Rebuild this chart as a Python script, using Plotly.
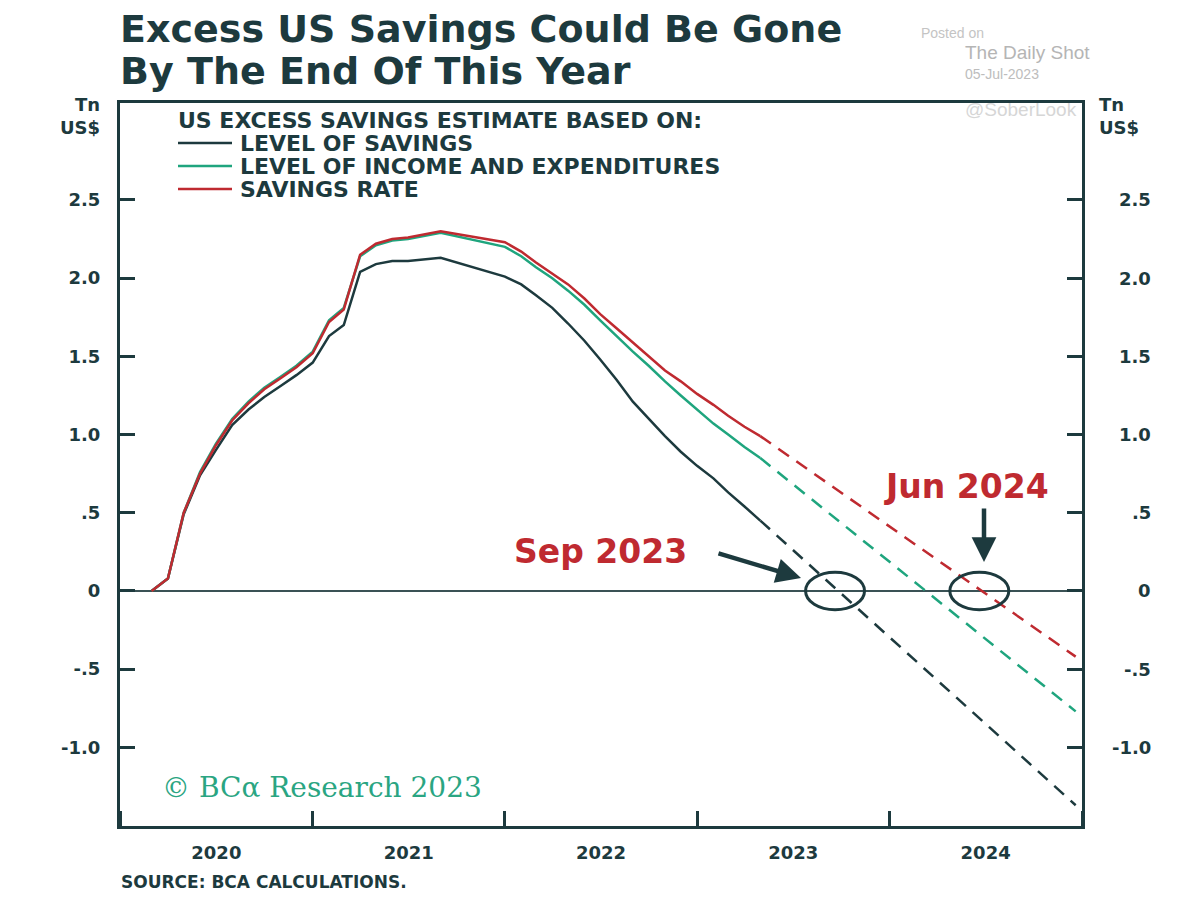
import plotly.graph_objects as go
import pandas as pd

# ---------------- data ----------------
hist_dates = [
    "2020-03-01", "2020-04-01", "2020-05-01", "2020-06-01", "2020-07-01", "2020-08-01",
    "2020-09-01", "2020-10-01", "2020-11-01", "2020-12-01",
    "2021-01-01", "2021-02-01", "2021-03-01", "2021-04-01", "2021-05-01", "2021-06-01",
    "2021-07-01", "2021-08-01", "2021-09-01",
    "2022-01-01", "2022-02-01", "2022-03-01", "2022-04-01", "2022-05-01", "2022-06-01",
    "2022-07-01", "2022-08-01", "2022-09-01", "2022-10-01", "2022-11-01", "2022-12-01",
    "2023-01-01", "2023-02-01", "2023-03-01", "2023-04-01", "2023-05-01",
]
savings_level = [
    0.00, 0.08, 0.49, 0.74, 0.90, 1.06, 1.16, 1.24, 1.31, 1.38,
    1.46, 1.63, 1.70, 2.04, 2.09, 2.11, 2.11, 2.12, 2.13,
    2.01, 1.96, 1.89, 1.81, 1.71, 1.60, 1.48, 1.35, 1.21, 1.10, 0.99, 0.89,
    0.80, 0.72, 0.63, 0.54, 0.45,
]
income_exp = [
    0.00, 0.08, 0.50, 0.76, 0.94, 1.10, 1.21, 1.30, 1.37, 1.44,
    1.53, 1.73, 1.81, 2.14, 2.21, 2.24, 2.25, 2.27, 2.29,
    2.20, 2.14, 2.07, 2.00, 1.92, 1.83, 1.73, 1.63, 1.53, 1.44, 1.34, 1.25,
    1.16, 1.07, 1.00, 0.92, 0.85,
]
savings_rate = [
    0.00, 0.08, 0.50, 0.75, 0.93, 1.09, 1.20, 1.29, 1.36, 1.43,
    1.52, 1.72, 1.80, 2.15, 2.22, 2.25, 2.26, 2.28, 2.30,
    2.23, 2.17, 2.10, 2.03, 1.96, 1.87, 1.77, 1.68, 1.59, 1.50, 1.41, 1.34,
    1.26, 1.19, 1.12, 1.05, 0.99,
]

proj_dates = ["2023-05-01", "2024-12-20"]
savings_level_proj = [0.45, -1.37]
income_exp_proj = [0.85, -0.77]
savings_rate_proj = [0.99, -0.42]

series_names = ["LEVEL OF SAVINGS", "LEVEL OF INCOME AND EXPENDITURES", "SAVINGS RATE"]
legend_heading = "US EXCESS SAVINGS ESTIMATE BASED ON:"

y_tickvals = [-1.0, -0.5, 0, 0.5, 1.0, 1.5, 2.0, 2.5]
y_ticktext = ["-1.0", "-.5", "0", ".5", "1.0", "1.5", "2.0", "2.5"]

crossing_labels = ["Sep 2023", "Jun 2024"]
crossing_dates = ["2023-09-20", "2024-06-20"]

title_lines = ["Excess US Savings Could Be Gone", "By The End Of This Year"]
source_text = "SOURCE: BCA CALCULATIONS."
brand_text = "© BCα Research 2023"

# ---------------- style ----------------
DARK = "#1d3a3e"
GREEN = "#1fa57e"
RED = "#bf2a30"
colors = [DARK, GREEN, RED]
FONT = "DejaVu Sans"

OFF = 8  # page body margin of the browser
L, R, T, B = 120 - OFF, 1082 - OFF, 103 - OFF, 826 - OFF
W, H = 1200 - OFF, 900 - OFF


def px(X):
    return (X - OFF - L) / (R - L)


def py(Y):
    return (B - (Y - OFF)) / (B - T)


fig = go.Figure()

hist = [savings_level, income_exp, savings_rate]
proj = [savings_level_proj, income_exp_proj, savings_rate_proj]
for name, vals, pvals, c in zip(series_names, hist, proj, colors):
    fig.add_trace(go.Scatter(x=hist_dates, y=vals, mode="lines", name=name,
                             line=dict(color=c, width=2.5), showlegend=False))
    fig.add_trace(go.Scatter(x=proj_dates, y=pvals, mode="lines", name=name + " (proj.)",
                             line=dict(color=c, width=2.5, dash="13px,9px"), showlegend=False))

fig.update_layout(
    width=W, height=H,
    margin=dict(l=L, r=W - R, t=T, b=H - B),
    paper_bgcolor="white", plot_bgcolor="white",
    font=dict(family=FONT, color=DARK),
    showlegend=False,
)

fig.update_xaxes(
    type="date", range=["2020-01-01", "2025-01-01"],
    tick0="2020-01-01", dtick="M12", tickformat="%Y", ticklabelmode="period",
    ticks="inside", ticklen=15, tickwidth=3, tickcolor=DARK,
    showline=True, linecolor=DARK, linewidth=3, mirror=True,
    showgrid=False, zeroline=False,
    tickfont=dict(family=FONT, size=18, color=DARK, weight="bold"),
    ticklabelstandoff=8,
)
fig.update_yaxes(
    range=[-1.503, 3.12],
    tickvals=y_tickvals, ticktext=y_ticktext,
    ticks="inside", ticklen=15, tickwidth=2.5, tickcolor=DARK,
    showline=True, linecolor=DARK, linewidth=3, mirror="ticks",
    showgrid=False, zeroline=True, zerolinecolor="#3a5255", zerolinewidth=1.5,
    tickfont=dict(family=FONT, size=18, color=DARK, weight="bold"),
    ticklabelstandoff=13,
)

ann = []
# right-side tick labels (right aligned)
for v, t in zip(y_tickvals, y_ticktext):
    ann.append(dict(x=px(1153), y=v, xref="paper", yref="y", text=t, showarrow=False,
                    xanchor="right", yanchor="middle",
                    font=dict(family=FONT, size=18, color=DARK, weight="bold")))
# units
ann.append(dict(x=px(102), y=py(116), xref="paper", yref="paper", text="Tn<br>US$",
                showarrow=False, xanchor="right", yanchor="middle", align="right",
                font=dict(family=FONT, size=18, color=DARK, weight="bold")))
ann.append(dict(x=px(1097), y=py(116), xref="paper", yref="paper", text="Tn<br>US$",
                showarrow=False, xanchor="left", yanchor="middle", align="left",
                font=dict(family=FONT, size=18, color=DARK, weight="bold")))

# watermark
wm = [("Posted on", 986, 33, 14, "#c4c4c4", "right"),
      ("The Daily Shot", 963, 52, 19, "#b5b5b5", "left"),
      ("05-Jul-2023", 963, 74, 14, "#bdbdbd", "left"),
      ("@SoberLook", 963, 110, 19, "#d6d6d6", "left")]
for t, X, Y, s, c, a in wm:
    ann.append(dict(x=px(X), y=py(Y), xref="paper", yref="paper", text=t, showarrow=False,
                    xanchor=a, yanchor="middle",
                    font=dict(family="Liberation Sans", size=s, color=c)))

# title
for i, line in enumerate(title_lines):
    ann.append(dict(x=px(118), y=py(29 + 42 * i), xref="paper", yref="paper", text=line,
                    showarrow=False, xanchor="left", yanchor="middle",
                    font=dict(family=FONT, size=38, color=DARK, weight="bold")))

# legend
ann.append(dict(x=px(176), y=py(120), xref="paper", yref="paper", text=legend_heading,
                showarrow=False, xanchor="left", yanchor="middle",
                font=dict(family=FONT, size=22, color=DARK, weight="bold")))
shapes = []
for i, (name, c) in enumerate(zip(series_names, colors)):
    yy = 143 + 23 * i
    shapes.append(dict(type="line", xref="paper", yref="paper", x0=px(178), x1=px(232),
                       y0=py(yy), y1=py(yy), line=dict(color=c, width=2.5)))
    ann.append(dict(x=px(238), y=py(yy), xref="paper", yref="paper", text=name,
                    showarrow=False, xanchor="left", yanchor="middle",
                    font=dict(family=FONT, size=22, color=DARK, weight="bold")))

# circles around zero crossings
for d in crossing_dates:
    c = pd.Timestamp(d)
    shapes.append(dict(type="circle", xref="x", yref="y",
                       x0=(c - pd.Timedelta(days=56)).strftime("%Y-%m-%d"),
                       x1=(c + pd.Timedelta(days=56)).strftime("%Y-%m-%d"),
                       y0=-0.12, y1=0.12, line=dict(color=DARK, width=3)))

# crossing labels and arrows
ann.append(dict(x=px(600), y=py(551), xref="paper", yref="paper", text=crossing_labels[0],
                showarrow=False, xanchor="center", yanchor="middle",
                font=dict(family=FONT, size=33, color=RED, weight="bold")))
ann.append(dict(x=px(966), y=py(486), xref="paper", yref="paper", text=crossing_labels[1],
                showarrow=False, xanchor="center", yanchor="middle",
                font=dict(family=FONT, size=33, color=RED, weight="bold")))
ann.append(dict(x=px(801), y=py(578), xref="paper", yref="paper", text="", showarrow=True,
                ax=-84, ay=-25, arrowhead=2, arrowsize=1.1, arrowwidth=4.5, arrowcolor=DARK,
                standoff=0))
ann.append(dict(x=px(984), y=py(562), xref="paper", yref="paper", text="", showarrow=True,
                ax=0, ay=-55, arrowhead=2, arrowsize=1.1, arrowwidth=4.5, arrowcolor=DARK,
                standoff=0))

# brand and source
ann.append(dict(x=px(160), y=py(787), xref="paper", yref="paper", text=brand_text,
                showarrow=False, xanchor="left", yanchor="middle",
                font=dict(family="DejaVu Serif", size=28, color="#2aa582")))
ann.append(dict(x=px(119), y=py(882), xref="paper", yref="paper", text=source_text,
                showarrow=False, xanchor="left", yanchor="middle",
                font=dict(family=FONT, size=17, color=DARK, weight="bold")))

fig.update_layout(annotations=ann, shapes=shapes)
fig.write_html("out.html")
